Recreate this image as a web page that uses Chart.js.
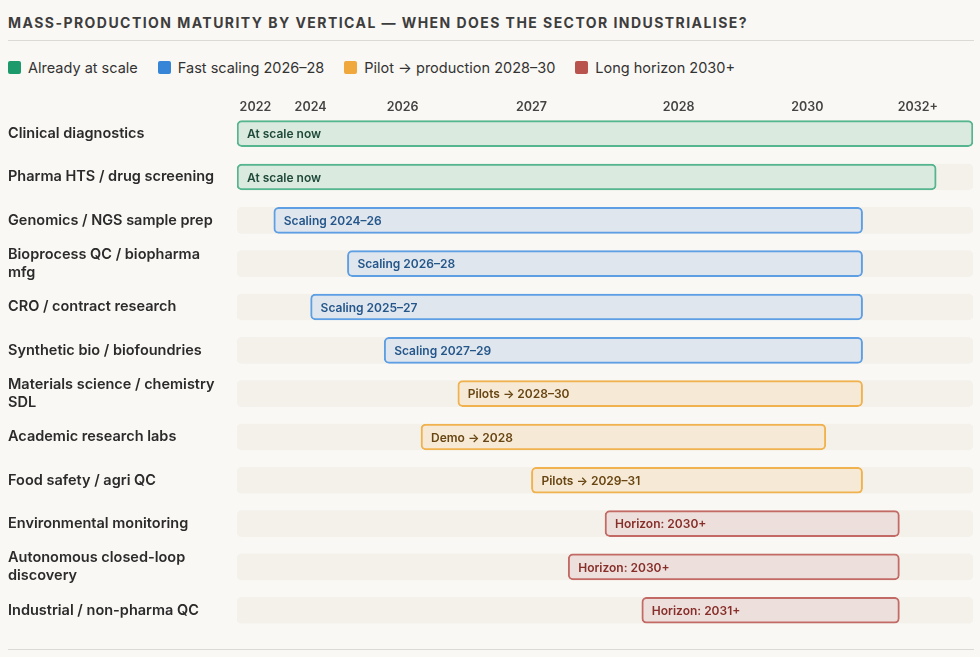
<!DOCTYPE html>
<html>
<head>
<meta charset="utf-8">
<script src="https://cdn.jsdelivr.net/npm/chart.js@4.4.1/dist/chart.umd.min.js"></script>
<style>
  body { margin: 0; background: #faf8f4; width: 980px; height: 657px; overflow: hidden;
         font-family: Inter, "Noto Sans", sans-serif; color: #2b2b2b; position: relative; }
  .title { position: absolute; left: 8px; top: 14px; font-size: 14px; font-weight: 700;
           letter-spacing: 1.45px; color: #3d3d3d; white-space: nowrap; }
  .rule { position: absolute; left: 8px; width: 966px; height: 1px; background: #dcdad4; }
  .legend { position: absolute; left: 8px; top: 59px; display: flex; font-size: 14.5px; color: #333; }
  .legend span { display: flex; align-items: center; margin-right: 20px; white-space: nowrap; }
  .legend i { display: inline-block; width: 13px; height: 13px; border-radius: 2px; margin-right: 7px; }
  #wrap { position: absolute; left: 0; top: 88px; width: 980px; height: 553px; }
</style>
</head>
<body>
<div class="title">MASS-PRODUCTION MATURITY BY VERTICAL — WHEN DOES THE SECTOR INDUSTRIALISE?</div>
<div class="rule" style="top:40px"></div>
<div class="legend" id="legend"></div>
<div id="wrap"><canvas id="maturity"></canvas></div>
<div class="rule" style="top:649px"></div>

<script>
// rows, top to bottom
const verticals = [
    'Clinical diagnostics',
    'Pharma HTS / drug screening',
    'Genomics / NGS sample prep',
    ['Bioprocess QC / biopharma', 'mfg'],
    'CRO / contract research',
    'Synthetic bio / biofoundries',
    ['Materials science / chemistry', 'SDL'],
    'Academic research labs',
    'Food safety / agri QC',
    'Environmental monitoring',
    ['Autonomous closed-loop', 'discovery'],
    'Industrial / non-pharma QC'
];

// start / end on the timeline scale (0 = left edge, 20 = right edge)
const startPos = [0, 0, 1, 3, 2, 4, 6, 5, 8, 10, 9, 11];
const endPos = [20, 19, 17, 17, 17, 17, 17, 16, 17, 18, 18, 18];
const rowGroup = ['scale', 'scale', 'fast', 'fast', 'fast', 'fast', 'pilot', 'pilot', 'pilot', 'long', 'long', 'long'];
const barLabels = [
    'At scale now', 'At scale now',
    'Scaling 2024–26', 'Scaling 2026–28', 'Scaling 2025–27', 'Scaling 2027–29',
    'Pilots → 2028–30', 'Demo → 2028', 'Pilots → 2029–31',
    'Horizon: 2030+', 'Horizon: 2030+', 'Horizon: 2031+'
];

// top axis
const tickPos = [0.5, 2, 4.5, 8, 12, 15.5, 18.5];
const tickLabels = ['2022', '2024', '2026', '2027', '2028', '2030', '2032+'];
const trackRange = [0, 20];

const groupNames = ['scale', 'fast', 'pilot', 'long'];
const groupLabels = ['Already at scale', 'Fast scaling 2026–28', 'Pilot → production 2028–30', 'Long horizon 2030+'];

const groupColors = {
    scale: { key: '#1c9a6c', border: '#55b58e', fill: '#dbeadf', text: '#1f4a3b' },
    fast:  { key: '#3685d6', border: '#5e9fe4', fill: '#dfe6ee', text: '#25568a' },
    pilot: { key: '#f0a83c', border: '#f0b24e', fill: '#f6ead6', text: '#684512' },
    long:  { key: '#b9534e', border: '#c46a66', fill: '#ede0dc', text: '#872e2a' }
};

//legend
document.getElementById('legend').innerHTML = groupNames.map((g, i) =>
    '<span><i style="background:' + groupColors[g].key + '"></i>' + groupLabels[i] + '</span>'
).join('');

//text inside each bar
const barText = {
    id: 'barText',
    afterDatasetsDraw(chart) {
        const ctx = chart.ctx;
        const meta = chart.getDatasetMeta(0);
        ctx.save();
        ctx.font = '600 12px Inter';
        ctx.textBaseline = 'middle';
        meta.data.forEach((bar, i) => {
            ctx.fillStyle = groupColors[rowGroup[i]].text;
            ctx.fillText(barLabels[i], Math.min(bar.x, bar.base) + 10, bar.y + 1);
        });
        ctx.restore();
    }
};

const ctx = document.getElementById('maturity').getContext('2d');
let maturityChart = new Chart(ctx, {
    type: 'bar',
    data: {
        labels: verticals,
        datasets: [{
            label: 'Maturity',
            data: verticals.map((v, i) => [startPos[i], endPos[i]]),
            backgroundColor: rowGroup.map(g => groupColors[g].fill),
            borderColor: rowGroup.map(g => groupColors[g].border),
            borderWidth: 2,
            borderRadius: 5,
            borderSkipped: false,
            barThickness: 26,
            grouped: false
        }, {
            label: 'Track',
            data: verticals.map(() => trackRange),
            backgroundColor: '#f3f1ea',
            borderWidth: 0,
            borderRadius: 5,
            borderSkipped: false,
            barThickness: 26,
            grouped: false
        }]
    },
    options: {
        indexAxis: 'y',
        responsive: true,
        maintainAspectRatio: false,
        animation: false,
        layout: { padding: { left: 8, right: 7, top: 0, bottom: 0 } },
        plugins: {
            legend: { display: false },
            tooltip: { enabled: false }
        },
        scales: {
            x: {
                type: 'linear',
                position: 'top',
                min: trackRange[0],
                max: trackRange[1],
                grid: { display: false, drawTicks: false },
                border: { display: false },
                afterBuildTicks: s => { s.ticks = tickPos.map(v => ({ value: v })); },
                afterFit: s => { s.height = 24; },
                ticks: {
                    autoSkip: false,
                    maxRotation: 0,
                    padding: -3,
                    color: '#444',
                    font: { family: 'Inter', size: 12.5, weight: '600' },
                    callback: (v, i) => tickLabels[i]
                }
            },
            y: {
                type: 'category',
                offset: true,
                grid: { display: false },
                border: { display: false },
                afterFit: s => { s.width = 229; },
                ticks: {
                    crossAlign: 'far',
                    padding: 0,
                    color: '#2b2b2b',
                    font: { family: 'Inter', size: 14.5, weight: '600', lineHeight: 1.25 }
                }
            }
        }
    },
    plugins: [barText]
});
</script>
</body>
</html>
